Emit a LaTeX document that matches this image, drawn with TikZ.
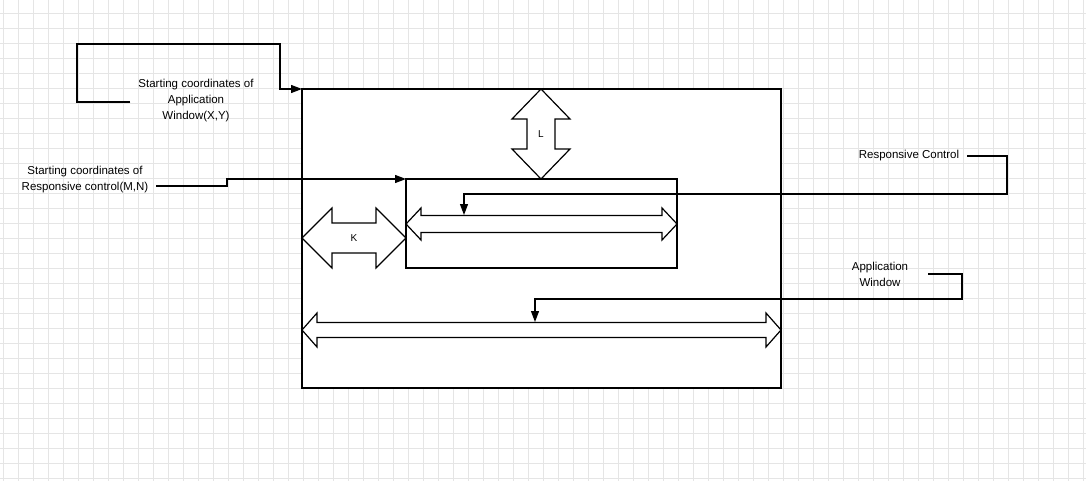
\documentclass[tikz,border=0pt]{standalone}
\usepackage{fontspec}
\setmainfont{Liberation Sans}
\usetikzlibrary{arrows.meta}

\tikzset{
	gridline/.style={draw=black!10, line width=0.8pt},
	frame/.style={draw, line width=1.2pt},
	blockarrow/.style={draw, fill=white, line width=1.2pt},
	leader/.style={draw, line width=1.2pt, -{Triangle[length=11pt, width=8pt]}},
	caption/.style={align=center, font=\fontsize{11.5}{16}\selectfont, inner sep=0pt}
}

% horizontal block arrow: x1, x2, y centre, shaft half, head half, head length
\newcommand{\hblock}[6]{
	\draw[blockarrow] (#1, #3) -- (#1+#6, #3-#5) -- (#1+#6, #3-#4) -- (#2-#6, #3-#4) -- (#2-#6, #3-#5)
		-- (#2, #3) -- (#2-#6, #3+#5) -- (#2-#6, #3+#4) -- (#1+#6, #3+#4) -- (#1+#6, #3+#5) -- cycle;
}
% vertical block arrow: y1, y2, x centre, shaft half, head half, head length
\newcommand{\vblock}[6]{
	\draw[blockarrow] (#3, #1) -- (#3-#5, #1+#6) -- (#3-#4, #1+#6) -- (#3-#4, #2-#6) -- (#3-#5, #2-#6)
		-- (#3, #2) -- (#3+#5, #2-#6) -- (#3+#4, #2-#6) -- (#3+#4, #1+#6) -- (#3+#5, #1+#6) -- cycle;
}

\begin{document}
\begin{tikzpicture}[x=1pt, y=-1pt]
	\useasboundingbox (0, 0) rectangle (1086, 481);

	% background grid
	\foreach \gx in {3, 18, ..., 1086}
		\draw[gridline] (\gx, 0) -- (\gx, 481);
	\foreach \gy in {13, 28, ..., 481}
		\draw[gridline] (0, \gy) -- (1086, \gy);

	% windows
	\draw[frame, fill=white] (302, 89) rectangle (781, 388);
	\coordinate (win) at (302, 89);
	\draw[frame] (406, 179) rectangle (677, 268);
	\coordinate (ctl) at (406, 179);

	% distances
	\vblock{89}{179}{541}{14}{29}{30}
	\node (L) at (541, 134) {L};
	\hblock{302}{406}{238}{15}{30}{30}
	\node (K) at (354, 238) {K};
	\hblock{406}{677}{224}{8.5}{16}{15}
	\hblock{302}{781}{330}{7.5}{17}{15}

	% labels
	\node[caption] (appstart) at (196, 101) {Starting coordinates of\\Application\\Window(X,Y)};
	\node[caption] (ctlstart) at (85, 180) {Starting coordinates of\\Responsive control(M,N)};
	\node[caption] (ctlname) at (909, 156) {Responsive Control};
	\node[caption] (appname) at (880, 274) {Application\\Window};

	\coordinate (ctlbar) at (464, 215);
	\coordinate (appbar) at (535, 322);

	% leaders
	\draw[leader] (appstart.west |- 0, 102) ++(-8, 0) -- (77, 102) -- (77, 44) -- (280, 44) -- (280, 89) -- (win);
	\draw[leader] (ctlstart.east |- 0, 186) ++(8, 0) -- (227, 186) -- (227, 179) -- (ctl);
	\draw[leader] (ctlname.east) ++(8, 0) -- (1007, 156) -- (1007, 194) -- (464, 194) -- (ctlbar);
	\draw[leader] (appname.east |- 0, 274) ++(20, 0) -- (962, 274) -- (962, 299) -- (535, 299) -- (appbar);
\end{tikzpicture}
\end{document}
